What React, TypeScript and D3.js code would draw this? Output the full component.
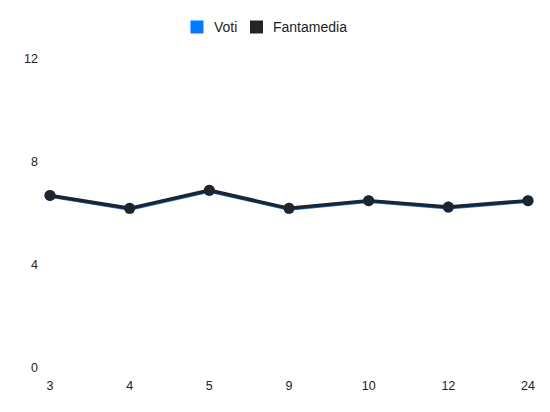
import { scalePoint, scaleLinear, line as d3_line } from "d3"

const giornate = ["3", "4", "5", "9", "10", "12", "24"]
const voti = [6.7, 6.2, 6.9, 6.2, 6.5, 6.25, 6.5]
const fantamedia = [6.7, 6.2, 6.9, 6.2, 6.5, 6.25, 6.5]
const yTicks = [0, 4, 8, 12]

const W = 550
const H = 412
const BLUE = "#007bff"
const DARK = "#212529"
const FONT = "'Liberation Sans', Arial, Helvetica, sans-serif"

export default function App() {
  let x = scalePoint<string>().domain(giornate).range([50, 528])
  let y = scaleLinear().domain([0, 12]).range([368, 59])

  let line = d3_line<number>()
    .x((_, i) => x(giornate[i]) ?? 0)
    .y((d) => y(d))

  const series = [
    { name: "Voti", values: voti, color: BLUE },
    { name: "Fantamedia", values: fantamedia, color: DARK },
  ]

  return (
    <div style={{ position: "fixed", left: 0, top: 0 }}>
      <svg width={W} height={H} style={{ fontFamily: FONT, display: "block" }}>
        <rect width={W} height={H} fill="#fff" />

        {/* Legend */}
        <g fontSize={14} fill="#222">
          <rect x={190.5} y={20.5} width={13} height={13} fill={BLUE} />
          <text x={214} y={32}>Voti</text>
          <rect x={250} y={20.5} width={13} height={13} fill={DARK} />
          <text x={273} y={32}>Fantamedia</text>
        </g>

        {/* Y axis */}
        {yTicks.map((t) => (
          <text key={t} x={38} y={y(t)} dy="0.35em" textAnchor="end" fontSize={12.5} fill="#222">
            {t}
          </text>
        ))}

        {/* X axis */}
        {giornate.map((g) => (
          <text key={g} x={x(g)} y={386} dy="0.35em" textAnchor="middle" fontSize={12.5} fill="#222">
            {g}
          </text>
        ))}

        {/* Series */}
        {series.map((s, k) => (
          <g key={s.name}>
            <path
              d={line(s.values) ?? ""}
              fill="none"
              stroke={s.color}
              strokeWidth={3.5}
              transform={k === 0 ? "translate(0,0.6)" : undefined}
              strokeLinejoin="round"
            />
            {s.values.map((v, i) => (
              <circle key={i} cx={x(giornate[i])} cy={y(v)} r={5.5} fill={s.color} />
            ))}
          </g>
        ))}
      </svg>
    </div>
  )
}
